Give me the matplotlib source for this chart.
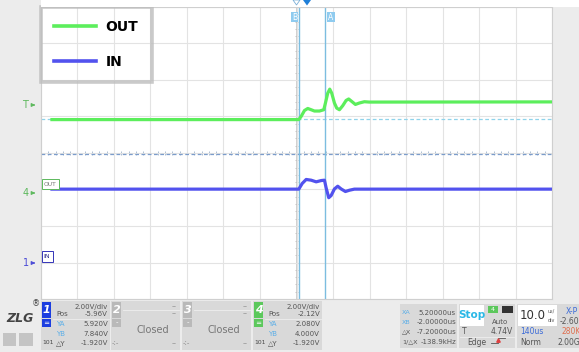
import numpy as np
import matplotlib
matplotlib.use("Agg")
import matplotlib.pyplot as plt
from matplotlib.patches import Rectangle, Polygon

W, H = 579, 352

# timebase / screen
T_DIV = 10.0       # us/div
T_CENTER = -2.6    # us at screen centre
N_XDIV, N_YDIV = 14, 8

# channel settings: V/div, position (V)
CH1_SCALE, CH1_POS = 2.00, -5.96
CH4_SCALE, CH4_POS = 2.00, -2.12

# cursors and trigger
XA, XB = 5.2, -2.0
YA4, YB4 = 2.080, 4.000
TRIG_LEVEL = 4.74

# OUT = channel 4, IN = channel 1 (time us, volts)
out_t = [-69.6, -1.97, -1.31, -0.41, 0.49, 1.42, 2.32, 3.69, 4.87, 5.33, 5.96, 6.51,
         7.05, 7.79, 8.42, 9.16, 10.06, 10.99, 11.70, 12.63, 13.54, 14.63, 16.0, 17.36, 67.1]
out_v = [3.95, 3.95, 4.13, 4.45, 4.56, 4.49, 4.42, 4.42, 4.49, 4.86, 5.40, 5.62,
         5.40, 4.86, 4.58, 4.49, 4.71, 5.00, 5.08, 4.93, 4.78, 4.86, 4.93, 4.91, 4.92]
in_t = [-69.6, -1.97, -1.04, 0.05, 1.42, 2.79, 4.16, 5.06, 5.52, 6.23, 6.89, 7.79,
        8.70, 9.63, 10.80, 11.90, 13.26, 67.1]
in_v = [3.98, 3.98, 4.29, 4.51, 4.47, 4.38, 4.45, 4.47, 4.05, 3.51, 3.63, 3.99,
        4.14, 3.99, 3.85, 3.92, 3.98, 3.98]

ch1_rows = [("", "2.00V/div"), ("Pos", "-5.96V"), ("YA", "5.920V"), ("YB", "7.840V"), ("\u25b3Y", "-1.920V")]
ch4_rows = [("", "2.00V/div"), ("Pos", "-2.12V"), ("YA", "2.080V"), ("YB", "4.000V"), ("\u25b3Y", "-1.920V")]
xcur_rows = [("XA", "5.20000us"), ("XB", "-2.00000us"), ("\u25b3X", "-7.20000us"), ("1/\u25b3X", "-138.9kHz")]

GREEN = "#5cee5c"
BLUE = "#5252ee"
CURSOR = "#7cbde0"
PANEL = "#d9d9d9"
TXT = "#555555"


def to_div(v, scale, pos):
    return (np.asarray(v) + pos) / scale


fig = plt.figure(figsize=(W / 100, H / 100), dpi=100, facecolor="#ececec")

# --- screen ---
ax = fig.add_axes([41 / W, (H - 299) / H, 511 / W, 292 / H], facecolor="white")
x0 = T_CENTER - N_XDIV / 2 * T_DIV
x1 = T_CENTER + N_XDIV / 2 * T_DIV
ax.set_xlim(x0, x1)
ax.set_ylim(-N_YDIV / 2, N_YDIV / 2)
ax.set_xticks(x0 + T_DIV * np.arange(N_XDIV + 1))
ax.set_yticks(np.arange(-N_YDIV / 2, N_YDIV / 2 + 1))
ax.tick_params(length=0, labelbottom=False, labelleft=False)
ax.grid(color="#e3e3e3", lw=0.8)
for s in ax.spines.values():
    s.set_color("#cfcfcf")
    s.set_linewidth(0.8)

# centre axes with minor ticks
ax.axvline(T_CENTER, color="#c8c8c8", lw=0.6, zorder=1)
minor_t = x0 + T_DIV / 5 * np.arange(N_XDIV * 5 + 1)
minor_y = -N_YDIV / 2 + 0.2 * np.arange(N_YDIV * 5 + 1)
ax.vlines(minor_t, -0.05, 0.05, color="#9fb4cc", lw=0.6, zorder=1)
ax.hlines(minor_y, T_CENTER - 0.5, T_CENTER + 0.5, color="#c0c0c0", lw=0.6, zorder=1)

# horizontal cursors (channel 4)
ax.axhline((YA4 + CH4_POS) / CH4_SCALE, color="#7b9ccb", lw=0.9, ls=(0, (3, 2)), zorder=2)
ax.axhline((YB4 + CH4_POS) / CH4_SCALE, color="#8fd3ea", lw=0.9, ls=(0, (3, 2)), zorder=2)

# vertical cursors
ax.axvline(XB, color=CURSOR, lw=1.0, zorder=2)
ax.axvline(XA, color=CURSOR, lw=1.0, zorder=2)

# traces
ax.plot(out_t, to_div(out_v, CH4_SCALE, CH4_POS), color=GREEN, lw=2.3, solid_joinstyle="round",
        label="OUT", zorder=4)
ax.plot(in_t, to_div(in_v, CH1_SCALE, CH1_POS), color=BLUE, lw=2.3, solid_joinstyle="round",
        label="IN", zorder=4)

leg = ax.legend(loc="upper left", bbox_to_anchor=(0, 1), borderaxespad=0, frameon=True,
                fancybox=False, handlelength=3.0, handletextpad=0.7, borderpad=0.95,
                labelspacing=1.5, prop={"weight": "bold", "size": 10})
frame = leg.get_frame()
frame.set_facecolor("none")
frame.set_edgecolor("#bdbdbd")
frame.set_linewidth(2.6)
for h in leg.legend_handles:
    h.set_linewidth(2.6)

# --- overlay in pixel coordinates ---
ov = fig.add_axes([0, 0, 1, 1], facecolor="none")
ov.set_xlim(0, W)
ov.set_ylim(H, 0)
ov.axis("off")


def box(x, y, w, h, fc, ec="none", lw=0.0, z=1):
    ov.add_patch(Rectangle((x, y), w, h, facecolor=fc, edgecolor=ec, lw=lw, zorder=z))


def txt(x, y, s, size=5, color=TXT, ha="left", **kw):
    ov.text(x, y, s, fontsize=size, color=color, ha=ha, va="center", **kw)


# top strip above screen
box(41, 0, W - 41, 7, "white", z=0)
ov.add_patch(Polygon([[293, 0], [300, 0], [296.5, 5]], closed=True, facecolor="white",
                     edgecolor="#7aaed6", lw=0.6, zorder=3))
ov.add_patch(Polygon([[303, 0], [311, 0], [307, 5.5]], closed=True, facecolor="#1f7fd8",
                     edgecolor="none", zorder=3))

# cursor tags
box(291, 12, 7, 10, "#8fcbef", z=3)
txt(294.5, 17.2, "B", 5.5, "white", ha="center")
box(327, 12, 8, 10, "#8fcbef", z=3)
txt(331, 17.2, "A", 5.5, "white", ha="center")

# left level markers
txt(22, 105, "T", 7, "#5cb85c")
ov.annotate("", xy=(38, 105), xytext=(31, 105),
            arrowprops=dict(arrowstyle="-|>", color="#5cb85c", lw=0.8, mutation_scale=5))
txt(23, 193, "4", 7, "#5cb85c")
ov.annotate("", xy=(38, 193), xytext=(31, 193),
            arrowprops=dict(arrowstyle="-|>", color="#5cb85c", lw=0.8, mutation_scale=5))
txt(23, 263, "1", 7, "#4a4ad6")
ov.annotate("", xy=(38, 263), xytext=(31, 263),
            arrowprops=dict(arrowstyle="-|>", color="#4a4ad6", lw=0.8, mutation_scale=5))

# channel name tags on the screen
box(41.5, 179, 17, 10, "white", "#5cb85c", 0.7, z=5)
txt(50, 184.3, "OUT", 4.3, "#777777", ha="center", zorder=6)
box(41.5, 251, 11, 11, "white", "#3434b8", 0.7, z=5)
txt(47, 256.5, "IN", 4.5, "#2a2a8a", ha="center", zorder=6)

# --- bottom panel ---
txt(6, 318, "ZLG", 9, "#444444", style="italic", weight="bold")
txt(32, 304, "\u00ae", 6, "#444444")
box(3, 333, 13, 13, "#c4c4c4")
box(19, 333, 14, 13, "#c4c4c4")


def channel(x, num, color, rows):
    box(x, 301, 69, 49, PANEL)
    box(x + 1, 302, 9, 16, color)
    txt(x + 5.5, 310, num, 8, "white", ha="center", weight="bold", style="italic")
    box(x + 1, 319, 9, 8, color)
    txt(x + 5.5, 322.5, "\u2550", 5, "white", ha="center")
    txt(x + 1, 343, "101", 4.3, "#444444")
    ys = [306.5, 314.5, 324.5, 333.5, 343]
    for (lab, val), yy in zip(rows, ys):
        col = "#5aaee8" if lab in ("YA", "YB") else TXT
        if lab:
            txt(x + 15, yy, lab, 5, col)
        txt(x + 67, yy, val, 5, TXT, ha="right")
    ov.plot([x + 12, x + 68], [318.5, 318.5], color="#eeeeee", lw=0.6)


def closed(x, num):
    box(x, 301, 69, 49, PANEL)
    box(x + 1, 302, 9, 16, "#b9b9b9")
    txt(x + 5.5, 310, num, 8, "white", ha="center", weight="bold", style="italic")
    box(x + 1, 319, 9, 8, "#b9b9b9")
    txt(x + 5.5, 322.5, "-", 5, "white", ha="center")
    txt(x + 66, 306.5, "--", 5, "#888888", ha="right")
    txt(x + 66, 313.5, "--", 5, "#888888", ha="right")
    ov.plot([x + 12, x + 68], [310, 310], color="#eeeeee", lw=0.6)
    txt(x + 42, 330, "Closed", 7, "#777777", ha="center")
    txt(x + 1, 343, "-:-", 5, "#888888")
    txt(x + 66, 343, "--", 5, "#888888", ha="right")


channel(41, "1", "#1c3ee0", ch1_rows)
closed(111, "2")
closed(182, "3")
channel(253, "4", "#5cc85c", ch4_rows)

# x cursor readout
box(400, 304, 57, 44, PANEL)
for (lab, val), yy in zip(xcur_rows, [313, 322, 331.5, 341.5]):
    col = "#5aaee8" if lab in ("XA", "XB") else TXT
    txt(402, yy, lab, 4.6, col)
    txt(456, yy, val, 5, TXT, ha="right")

# trigger block
box(459, 304, 56, 44, PANEL)
box(460, 305, 24, 21, "white")
txt(472, 315.5, "Stop", 7.5, "#2ab8e6", ha="center", weight="bold")
box(488, 306, 10, 7, "#5cc85c")
txt(493, 309.5, "4", 4.5, "white", ha="center")
box(502, 306, 11, 7, "#333333")
txt(500, 321.5, "Auto", 5, TXT, ha="center")
txt(462, 332, "T", 5.5, TXT)
txt(513, 332, "4.74V", 5.5, TXT, ha="right")
ov.plot([460, 514], [337, 337], color="#eeeeee", lw=0.6)
txt(467, 342.5, "Edge", 5.5, TXT)
ov.plot([491, 498, 498, 505], [343, 343, 338, 338], color="#555555", lw=0.6)
ov.plot([498], [340], marker="^", color="#e04040", ms=2.5)

# timebase block
box(517, 304, 62, 44, PANEL)
box(518, 305, 39, 21, "white")
txt(520, 315.5, "10.0", 8.5, "#333333")
txt(548, 311, "us/", 3.5, "#555555")
txt(548, 320, "div", 3.5, "#555555")
txt(520, 332, "140us", 5.5, "#3a6ad8")
txt(520, 342.5, "Norm", 5.5, TXT)
txt(566, 312, "X-P", 5.5, "#3a6ad8")
txt(560, 321, "-2.60", 5.5, TXT)
txt(561, 332, "280Kp", 5.5, "#e07050")
txt(557, 342.5, "2.00GSa", 5.5, TXT)

fig.savefig("out.png", dpi=100, facecolor=fig.get_facecolor())
